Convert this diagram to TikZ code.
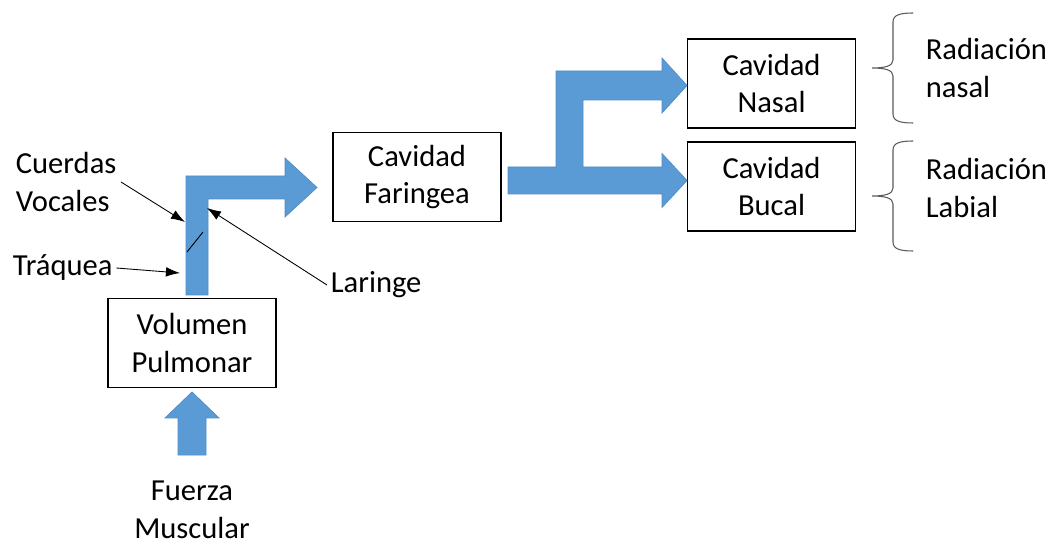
\documentclass[tikz,border=0pt]{standalone}
\usepackage{fontspec}
\setmainfont{Carlito}
\usetikzlibrary{arrows.meta}
\definecolor{azul}{HTML}{5B9BD5}
\definecolor{azulborde}{HTML}{4F8CC6}
\tikzset{
  caja/.style={draw, line width=0.8pt, align=center, minimum width=3.36cm, minimum height=1.78cm, inner sep=0pt},
  etiqueta/.style={align=left, inner sep=2pt},
  bloque/.style={fill=azul, draw=azulborde, line width=0.4pt},
  flecha/.style={-{Latex[length=8pt,width=5.5pt]}, line width=0.5pt},
  llave/.style={line width=0.6pt, draw=gray!70!black}
}
\begin{document}
\begin{tikzpicture}[x=0.02cm, y=-0.02cm, font=\fontsize{17.4}{21.5}\selectfont]
\useasboundingbox (0,0) rectangle (1053,546);

% cajas
\node[caja] (volumen) at (192,343) {Volumen\\Pulmonar};
\node[caja] (faringea) at (417,177) {Cavidad\\Faringea};
\node[caja] (nasal) at (771.5,83.5) {Cavidad\\Nasal};
\node[caja] (bucal) at (771.5,186.5) {Cavidad\\Bucal};

% flechas de bloque
\draw[bloque] (178,455)--(178,418)--(165,418)--(192,392)--(219,418)--(206,418)--(206,455)--cycle;
\draw[bloque] (186,295)--(186,176)--(285,176)--(285,158)--(317,187.5)--(285,217)--(285,199)--(208,199)--(208,295)--cycle;
\draw[bloque] (508,194)--(508,167)--(556,167)--(556,71)--(662,71)--(662,58)--(687,85.5)--(662,113)--(662,100)--(583,100)--(583,167)--(662,167)--(662,153.5)--(687,180.5)--(662,207.5)--(662,194)--cycle;
\draw[line width=0.5pt] (187,252)--(203,232);

% etiquetas
\node[etiqueta, anchor=west] (cuerdas) at (12,182) {Cuerdas\\Vocales};
\node[etiqueta, anchor=west] (traquea) at (9,268) {Tráquea};
\node[etiqueta, anchor=west] (laringe) at (327,285) {Laringe};
\node[align=center, inner sep=1pt] (fuerza) at (192,510) {Fuerza\\Muscular};
\node[etiqueta, anchor=west] (radnasal) at (922,68) {Radiación\\nasal};
\node[etiqueta, anchor=west] (radlabial) at (922,188) {Radiación\\Labial};

\coordinate (pcuerdas) at (185,222);
\coordinate (ptraquea) at (180,273);
\coordinate (plaringe) at (207,208);
\draw[flecha] (121,182) -- (pcuerdas);
\draw[flecha] (traquea.east) -- (ptraquea);
\draw[flecha] (laringe.west) -- (plaringe);

% llaves
\foreach \dy in {0,128}
  \draw[llave] (913,13+\dy) .. controls (900,13+\dy) and (893,15+\dy) .. (893,22+\dy) -- (893,60+\dy)
    .. controls (893,66+\dy) and (885,68+\dy) .. (872,68+\dy)
    .. controls (885,68+\dy) and (893,70+\dy) .. (893,76+\dy) -- (893,114+\dy)
    .. controls (893,121+\dy) and (900,123+\dy) .. (913,123+\dy);

\end{tikzpicture}
\end{document}
